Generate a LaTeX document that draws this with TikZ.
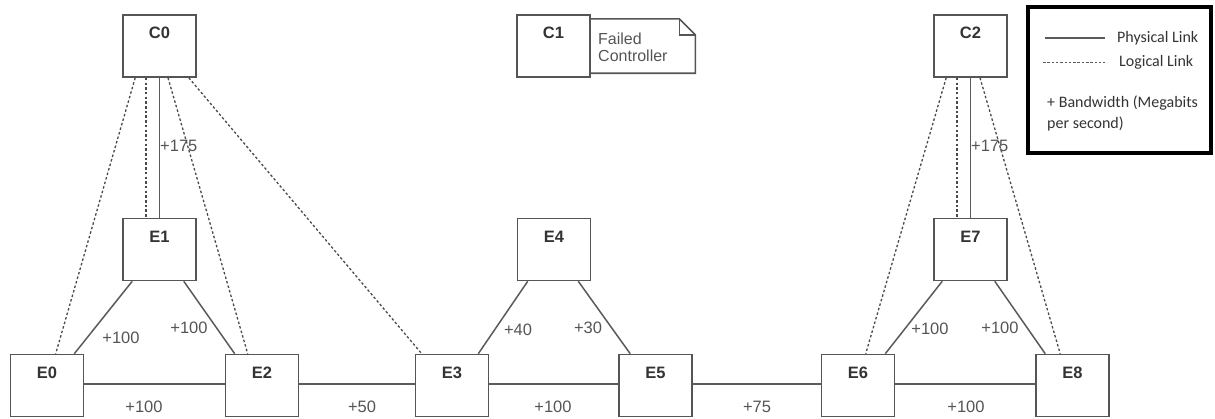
\documentclass[tikz,border=0pt]{standalone}
\usepackage{fontspec}
\setmainfont{Liberation Sans}
\newfontfamily\legendfont{Carlito}
\definecolor{boxc}{HTML}{555555}
\definecolor{linkc}{HTML}{5A5A5A}
\definecolor{dotc}{HTML}{4A4A4A}
\definecolor{txt}{HTML}{333333}
\definecolor{ltxt}{HTML}{555555}
\begin{document}
\begin{tikzpicture}[x=1pt,y=-1pt,
  box/.style={draw=boxc, line width=1.6pt, minimum width=73pt, minimum height=62pt, inner sep=0pt,
    label={[anchor=north, yshift=-13pt, inner sep=0pt, text=txt, font=\bfseries\fontsize{16.5}{16.5}\selectfont]north:#1}},
  phys/.style={draw=linkc, line width=1.5pt},
  logi/.style={draw=dotc, line width=1.3pt, dash pattern=on 2.5pt off 2.2pt},
  elab/.style={inner sep=0pt, text=ltxt, font=\fontsize{16.5}{16.5}\selectfont},
  legtext/.style={inner sep=0pt, text=txt, anchor=west, font=\legendfont\fontsize{16}{21}\selectfont}
]
\useasboundingbox (0,0) rectangle (1215,418);

% controllers
\node[box=C0] (C0) at (159.5,46) {};
\node[box=C1] (C1) at (553.5,46) {};
\node[box=C2] (C2) at (970.5,46) {};
% switches
\node[box=E1] (E1) at (159.5,249.5) {};
\node[box=E4] (E4) at (554,249.5) {};
\node[box=E7] (E7) at (970.5,249.5) {};
\node[box=E0] (E0) at (47,385.5) {};
\node[box=E2] (E2) at (262,385.5) {};
\node[box=E3] (E3) at (452,385.5) {};
\node[box=E5] (E5) at (655.5,385.5) {};
\node[box=E6] (E6) at (858,385.5) {};
\node[box=E8] (E8) at (1072.5,385.5) {};

% failed controller note
\node[minimum width=105pt, minimum height=54pt, inner sep=0pt, anchor=west] (note) at (590,46) {};
\draw[boxc, line width=1.6pt, line join=miter]
  (note.north west) -- ([xshift=-16pt]note.north east) -- ([yshift=-16pt]note.north east)
  -- (note.south east) -- (note.south west);
\draw[boxc, line width=1.4pt]
  ([xshift=-16pt]note.north east) -- ([xshift=-16pt,yshift=-16pt]note.north east) -- ([yshift=-16pt]note.north east);
\node[inner sep=0pt, anchor=west, align=left, text=ltxt, font=\fontsize{16}{17}\selectfont] (notetext) at (598,47) {Failed\\Controller};

% physical links
\draw[phys] (C0) -- (E1);
\draw[phys] (C2) -- (E7);
\draw[phys] ([xshift=10pt]E1.south west) -- ([xshift=-10pt]E0.north east);
\draw[phys] ([xshift=-13pt]E1.south east) -- ([xshift=10pt]E2.north west);
\draw[phys] ([xshift=11pt]E4.south west) -- ([xshift=-11pt]E3.north east);
\draw[phys] ([xshift=-13pt]E4.south east) -- ([xshift=12pt]E5.north west);
\draw[phys] ([xshift=9pt]E7.south west) -- ([xshift=-10pt]E6.north east);
\draw[phys] ([xshift=-13pt]E7.south east) -- ([xshift=10pt]E8.north west);
\draw[phys] ([yshift=1.5pt]E0.east) -- ([yshift=1.5pt]E2.west);
\draw[phys] ([yshift=1.5pt]E2.east) -- ([yshift=1.5pt]E3.west);
\draw[phys] ([yshift=1.5pt]E3.east) -- ([yshift=1.5pt]E5.west);
\draw[phys] ([yshift=1.5pt]E5.east) -- ([yshift=1.5pt]E6.west);
\draw[phys] ([yshift=1.5pt]E6.east) -- ([yshift=1.5pt]E8.west);

% logical links
\draw[logi] ([xshift=-13.5pt]C0.south) -- ([xshift=-13.5pt]E1.north);
\draw[logi] ([xshift=13pt]C0.south west) -- ([xshift=46pt]E0.north west);
\draw[logi] ([xshift=8.5pt]C0.south) -- ([xshift=23pt]E2.north west);
\draw[logi] ([xshift=-8pt]C0.south east) -- ([xshift=7pt]E3.north west);
\draw[logi] ([xshift=-13.5pt]C2.south) -- ([xshift=-13.5pt]E7.north);
\draw[logi] ([xshift=13pt]C2.south west) -- ([xshift=45pt]E6.north west);
\draw[logi] ([xshift=9.5pt]C2.south) -- ([xshift=25pt]E8.north west);

% bandwidth labels
\node[elab, anchor=west] (b1) at (160,146) {+175};
\node[elab, anchor=west] (b2) at (971,146) {+175};
\node[elab] (b3) at (121,338) {+100};
\node[elab] (b4) at (189,328) {+100};
\node[elab] (b5) at (144,407) {+100};
\node[elab] (b6) at (362,407) {+50};
\node[elab] (b7) at (518,330) {+40};
\node[elab] (b8) at (588,328) {+30};
\node[elab] (b9) at (553,407) {+100};
\node[elab] (b10) at (757,407) {+75};
\node[elab] (b11) at (930,329) {+100};
\node[elab] (b12) at (1000,328) {+100};
\node[elab] (b13) at (966,407) {+100};

% legend
\node[draw=black, line width=4pt, minimum width=183pt, minimum height=146pt, inner sep=0pt] (legend) at (1119.5,80) {};
\coordinate (ps) at (1045,38);
\coordinate (pe) at (1105,38);
\coordinate (ls) at (1043,62);
\coordinate (le) at (1105,62);
\draw[draw=linkc, line width=1.6pt] (ps) -- (pe);
\draw[draw=linkc, line width=1pt, dash pattern=on 2.5pt off 1.8pt] (ls) -- (le);
\node[legtext] (lp) at (1117,38) {Physical Link};
\node[legtext] (ll) at (1119,62) {Logical Link};
\node[legtext, align=left] (lb) at (1047,113) {+ Bandwidth (Megabits\\per second)};
\end{tikzpicture}
\end{document}
